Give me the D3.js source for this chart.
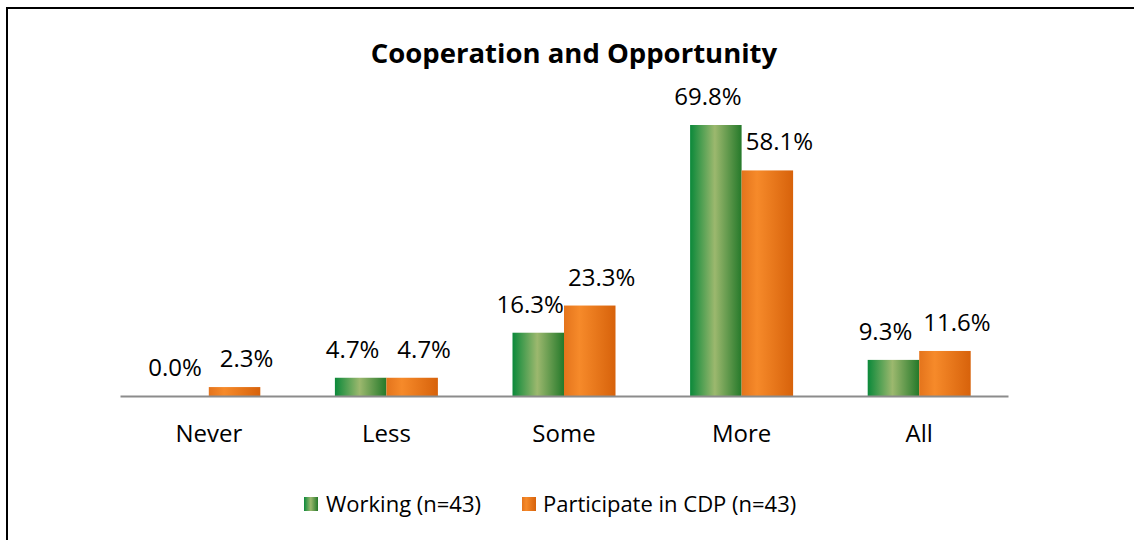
<!DOCTYPE html>
<html>
<head>
<meta charset="utf-8">
<script src="https://cdn.jsdelivr.net/npm/d3@7"></script>
<style>
  html, body { margin: 0; padding: 0; background: #fff; }
  svg { display: block; }
  text { font-family: "Open Sans", sans-serif; fill: #000; }
</style>
</head>
<body>
<div id="chart"></div>
<script>
// Chart content
const title = "Cooperation and Opportunity";
const categories = ["Never", "Less", "Some", "More", "All"];
const seriesNames = ["Working (n=43)", "Participate in CDP (n=43)"];
const working = [0.0, 4.7, 16.3, 69.8, 9.3];
const participate = [2.3, 4.7, 23.3, 58.1, 11.6];

const W = 1134, H = 540;
const plot = { left: 120, right: 1008, top: 85.4, bottom: 396 };

const svg = d3.select("#chart").append("svg")
  .attr("width", W).attr("height", H);

// Gradients for the two series
const defs = svg.append("defs");
const gGreen = defs.append("linearGradient").attr("id", "gradGreen")
  .attr("x1", "0%").attr("x2", "100%").attr("y1", "0%").attr("y2", "0%");
[["0%", "#0b893a"], ["48%", "#9cb86e"], ["100%", "#25792a"]].forEach(([o, c]) =>
  gGreen.append("stop").attr("offset", o).attr("stop-color", c));
const gOrange = defs.append("linearGradient").attr("id", "gradOrange")
  .attr("x1", "0%").attr("x2", "100%").attr("y1", "0%").attr("y2", "0%");
[["0%", "#e4741c"], ["30%", "#f68a2a"], ["100%", "#d7620b"]].forEach(([o, c]) =>
  gOrange.append("stop").attr("offset", o).attr("stop-color", c));
const fills = ["url(#gradGreen)", "url(#gradOrange)"];

// Outer frame
svg.append("rect")
  .attr("x", 7).attr("y", 8).attr("width", W + 20).attr("height", H + 20)
  .attr("fill", "none").attr("stroke", "#000").attr("stroke-width", 2);

// Title
svg.append("text")
  .attr("x", 574).attr("y", 63)
  .attr("text-anchor", "middle")
  .style("font-size", "27.5px").style("font-weight", "bold")
  .text(title);

// Scales
const x0 = d3.scaleBand().domain(categories)
  .range([plot.left, plot.right]).paddingInner(0).paddingOuter(0);
const barW = 51.5;
const x1 = d3.scaleBand().domain([0, 1])
  .range([x0.bandwidth() / 2 - barW, x0.bandwidth() / 2 + barW]);
const y = d3.scaleLinear().domain([0, 80]).range([plot.bottom, plot.top]);

const rows = categories.map((c, i) => ({ cat: c, vals: [working[i], participate[i]] }));

// Bars
const groups = svg.append("g").selectAll("g").data(rows).join("g")
  .attr("transform", d => `translate(${x0(d.cat)},0)`);

groups.selectAll("rect").data(d => d.vals.map((v, s) => ({ v, s })))
  .join("rect")
  .attr("x", d => x1(d.s))
  .attr("width", x1.bandwidth())
  .attr("y", d => y(d.v))
  .attr("height", d => y(0) - y(d.v))
  .attr("fill", d => fills[d.s]);

// Value labels
const labelDx = [-8, 12];
groups.selectAll("text.val").data(d => d.vals.map((v, s) => ({ v, s })))
  .join("text").attr("class", "val")
  .attr("x", d => x1(d.s) + x1.bandwidth() / 2 + labelDx[d.s])
  .attr("y", d => y(d.v) - 20)
  .attr("text-anchor", "middle")
  .style("font-size", "24px")
  .text(d => d.v.toFixed(1) + "%");

// Category axis
const axis = svg.append("g")
  .attr("transform", `translate(0,${plot.bottom})`)
  .call(d3.axisBottom(x0).tickSize(0).tickPadding(0));
axis.select(".domain").attr("stroke", "#8c8c8c").attr("stroke-width", 2);
axis.selectAll(".tick text")
  .attr("dy", 0).attr("y", 46)
  .style("font-size", "24px")
  .style("font-family", "'Open Sans', sans-serif")
  .attr("fill", "#000");

// Legend
const legendItems = [
  { name: seriesNames[0], sx: 304, tx: 326 },
  { name: seriesNames[1], sx: 522, tx: 543 }
];
const legend = svg.append("g");
legendItems.forEach((it, i) => {
  legend.append("rect")
    .attr("x", it.sx).attr("y", 497).attr("width", 14).attr("height", 14)
    .attr("fill", fills[i]);
  legend.append("text")
    .attr("x", it.tx).attr("y", 512)
    .style("font-size", "22px")
    .text(it.name);
});
</script>
</body>
</html>
